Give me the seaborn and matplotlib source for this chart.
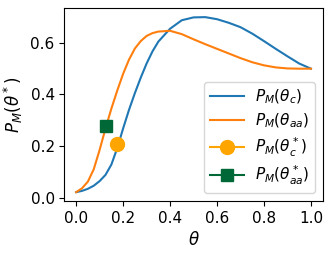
import matplotlib
matplotlib.use("Agg")
import matplotlib.pyplot as plt
import seaborn as sns
import pandas as pd

# valores
theta = [0.0, 0.025, 0.05, 0.075, 0.1, 0.125, 0.15, 0.175, 0.2, 0.225, 0.25,
         0.275, 0.3, 0.325, 0.35, 0.4, 0.45, 0.5, 0.55, 0.6, 0.65, 0.7, 0.75,
         0.8, 0.85, 0.9, 0.95, 1.0]
pm_c = [0.021, 0.026, 0.034, 0.046, 0.064, 0.088, 0.128, 0.192, 0.268, 0.340,
        0.405, 0.465, 0.520, 0.567, 0.605, 0.655, 0.688, 0.699, 0.700, 0.692,
        0.678, 0.661, 0.636, 0.607, 0.577, 0.548, 0.520, 0.500]
pm_aa = [0.021, 0.036, 0.062, 0.110, 0.185, 0.268, 0.345, 0.415, 0.480, 0.535,
         0.578, 0.607, 0.627, 0.638, 0.644, 0.647, 0.634, 0.614, 0.595, 0.577,
         0.559, 0.541, 0.525, 0.513, 0.505, 0.501, 0.500, 0.500]

opt_c = (0.176, 0.208)
opt_aa = (0.128, 0.277)

df = pd.DataFrame({"theta": theta, "c": pm_c, "aa": pm_aa})

fig = plt.figure(figsize=(3.32, 2.54), dpi=100)
ax = fig.add_axes([0.194, 0.209, 0.778, 0.758])

sns.lineplot(data=df, x="theta", y="c", color="#1f77b4", lw=1.5,
             label=r"$P_M(\theta_c)$", ax=ax)
sns.lineplot(data=df, x="theta", y="aa", color="#ff7f0e", lw=1.5,
             label=r"$P_M(\theta_{aa})$", ax=ax)
ax.plot([opt_c[0]], [opt_c[1]], marker="o", color="orange", markersize=10,
        label=r"$P_M(\theta_c^*)$")
ax.plot([opt_aa[0]], [opt_aa[1]], marker="s", color="#006837", markersize=9,
        label=r"$P_M(\theta_{aa}^*)$")

ax.set_xlabel(r"$\theta$", fontsize=12)
ax.set_ylabel(r"$P_M(\theta^*)$", fontsize=12)
ax.set_xticks([0.0, 0.2, 0.4, 0.6, 0.8, 1.0])
ax.set_yticks([0.0, 0.2, 0.4, 0.6])
ax.tick_params(labelsize=11)
ax.legend(loc="lower right", fontsize=11, handlelength=2.2,
          handletextpad=0.7, labelspacing=0.35)

fig.savefig("out.png", dpi=100)
